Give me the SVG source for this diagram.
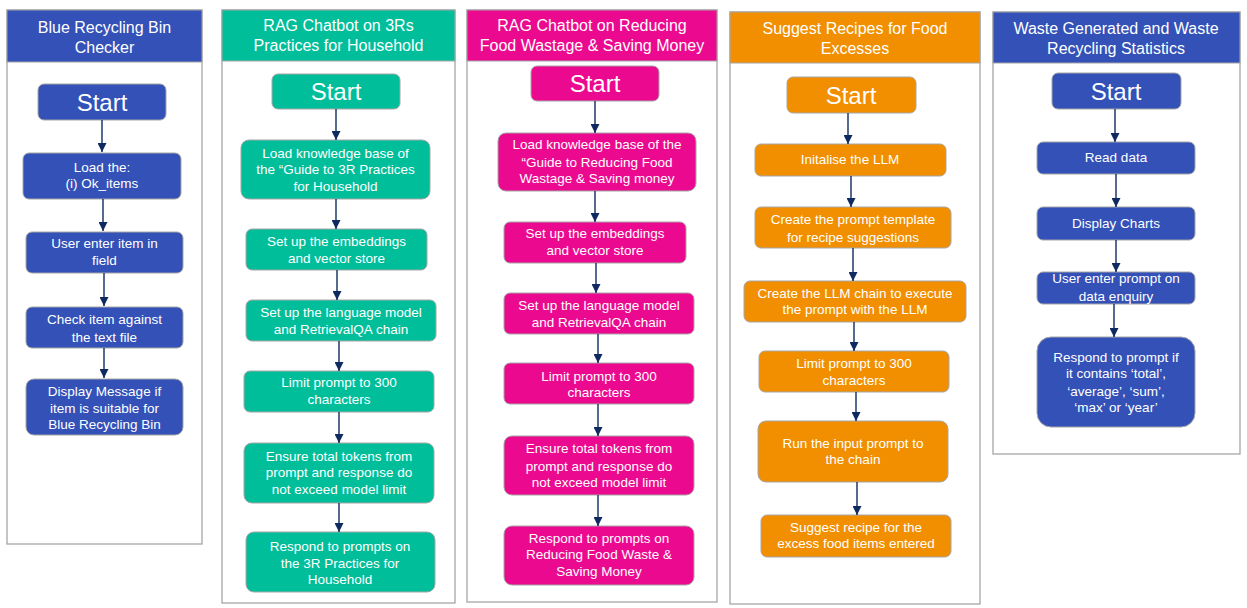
<svg xmlns="http://www.w3.org/2000/svg" width="1247" height="608" viewBox="0 0 1247 608">
<style>
text{font-family:"Liberation Sans",Arial,sans-serif;fill:#fff;text-anchor:middle}
.hd{font-size:16px}
.st{font-size:24px}
.bx{font-size:13.5px}
.panel{fill:#fff;stroke:#a6a6a6;stroke-width:1.3}
.hdr{stroke:#a6a6a6;stroke-width:1}
.n{stroke:#a6a6a6;stroke-width:1}
.blue{fill:#3351b7}
.teal{fill:#00be9a}
.pink{fill:#eb0a8f}
.orng{fill:#f18f00}
.c line{stroke:#0f2a60;stroke-width:1.4}
</style>
<defs>
<marker id="ah" markerUnits="userSpaceOnUse" markerWidth="9" markerHeight="9" refX="9" refY="4.5" orient="auto">
<path d="M0,0 L9,4.5 L0,9 Z" fill="#0f2a60"/>
</marker>
</defs>
<rect width="1247" height="608" fill="#fff"/>

<!-- Panels -->
<g id="panel1">
<rect class="panel" x="7" y="10" width="195" height="534"/>
<rect class="hdr blue" x="7" y="10" width="195" height="52"/>
<text class="hd" x="104.5" y="32.5">Blue Recycling Bin</text>
<text class="hd" x="104.5" y="52.5">Checker</text>
</g>
<g id="panel2">
<rect class="panel" x="222" y="10" width="233" height="593"/>
<rect class="hdr teal" x="222" y="10" width="233" height="51"/>
<text class="hd" x="338.5" y="31">RAG Chatbot on 3Rs</text>
<text class="hd" x="338.5" y="51">Practices for Household</text>
</g>
<g id="panel3">
<rect class="panel" x="467" y="10" width="250" height="592"/>
<rect class="hdr pink" x="467" y="10" width="250" height="51"/>
<text class="hd" x="592" y="31">RAG Chatbot on Reducing</text>
<text class="hd" x="592" y="51">Food Wastage &amp; Saving Money</text>
</g>
<g id="panel4">
<rect class="panel" x="730" y="12" width="250" height="592"/>
<rect class="hdr orng" x="730" y="12" width="250" height="51"/>
<text class="hd" x="855" y="33.5">Suggest Recipes for Food</text>
<text class="hd" x="855" y="53.5">Excesses</text>
</g>
<g id="panel5">
<rect class="panel" x="993" y="12" width="247" height="442"/>
<rect class="hdr blue" x="993" y="12" width="247" height="51"/>
<text class="hd" x="1116" y="33.5">Waste Generated and Waste</text>
<text class="hd" x="1116" y="53.5">Recycling Statistics</text>
</g>

<!-- Column 1 nodes -->
<g id="c1-start"><rect class="n blue" x="38" y="84" width="128" height="36" rx="6"/><text class="st" x="102" y="110.5">Start</text></g>
<g id="c1-load"><rect class="n blue" x="23" y="153" width="158" height="46" rx="6"/><text class="bx" x="102" y="171.5">Load the:</text><text class="bx" x="102" y="188">(i) Ok_items</text></g>
<g id="c1-user"><rect class="n blue" x="26" y="232" width="157" height="41" rx="6"/><text class="bx" x="104.5" y="247.5">User enter item in</text><text class="bx" x="104.5" y="264.5">field</text></g>
<g id="c1-check"><rect class="n blue" x="26" y="307" width="157" height="41" rx="6"/><text class="bx" x="104.5" y="323.5">Check item against</text><text class="bx" x="104.5" y="341.5">the text file</text></g>
<g id="c1-display"><rect class="n blue" x="26" y="379" width="157" height="56" rx="8"/><text class="bx" x="104.5" y="395.5">Display Message if</text><text class="bx" x="104.5" y="412.5">item is suitable for</text><text class="bx" x="104.5" y="428.5">Blue Recycling Bin</text></g>

<!-- Column 2 nodes -->
<g id="c2-start"><rect class="n teal" x="272" y="74" width="128" height="35" rx="6"/><text class="st" x="336" y="99.5">Start</text></g>
<g id="c2-load"><rect class="n teal" x="241" y="140" width="189" height="59" rx="8"/><text class="bx" x="335.5" y="157.5">Load knowledge base of</text><text class="bx" x="335.5" y="173.5">the “Guide to 3R Practices</text><text class="bx" x="335.5" y="190.5">for Household</text></g>
<g id="c2-embed"><rect class="n teal" x="246" y="229" width="181" height="41" rx="6"/><text class="bx" x="336.5" y="245.5">Set up the embeddings</text><text class="bx" x="336.5" y="262.5">and vector store</text></g>
<g id="c2-lang"><rect class="n teal" x="246" y="300" width="190" height="41" rx="6"/><text class="bx" x="341" y="316.5">Set up the language model</text><text class="bx" x="341" y="333.5">and RetrievalQA chain</text></g>
<g id="c2-limit"><rect class="n teal" x="244" y="371" width="190" height="41" rx="6"/><text class="bx" x="339" y="386.5">Limit prompt to 300</text><text class="bx" x="339" y="403.5">characters</text></g>
<g id="c2-ensure"><rect class="n teal" x="244" y="443" width="190" height="60" rx="8"/><text class="bx" x="339" y="460.5">Ensure total tokens from</text><text class="bx" x="339" y="476.5">prompt and response do</text><text class="bx" x="339" y="493.5">not exceed model limit</text></g>
<g id="c2-respond"><rect class="n teal" x="246" y="532" width="189" height="60" rx="8"/><text class="bx" x="340" y="550.5">Respond to prompts on</text><text class="bx" x="340" y="567.5">the 3R Practices for</text><text class="bx" x="340" y="583.5">Household</text></g>

<!-- Column 3 nodes -->
<g id="c3-start"><rect class="n pink" x="531" y="66" width="128" height="35" rx="6"/><text class="st" x="595" y="91.5">Start</text></g>
<g id="c3-load"><rect class="n pink" x="498" y="133" width="198" height="58" rx="8"/><text class="bx" x="597" y="148.5">Load knowledge base of the</text><text class="bx" x="597" y="166.5">“Guide to Reducing Food</text><text class="bx" x="597" y="182.5">Wastage &amp; Saving money</text></g>
<g id="c3-embed"><rect class="n pink" x="504" y="222" width="182" height="41" rx="6"/><text class="bx" x="595" y="237.5">Set up the embeddings</text><text class="bx" x="595" y="254.5">and vector store</text></g>
<g id="c3-lang"><rect class="n pink" x="504" y="293" width="190" height="41" rx="6"/><text class="bx" x="599" y="309.5">Set up the language model</text><text class="bx" x="599" y="326.5">and RetrievalQA chain</text></g>
<g id="c3-limit"><rect class="n pink" x="504" y="363" width="190" height="41" rx="6"/><text class="bx" x="599" y="380.5">Limit prompt to 300</text><text class="bx" x="599" y="396.5">characters</text></g>
<g id="c3-ensure"><rect class="n pink" x="504" y="436" width="190" height="59" rx="8"/><text class="bx" x="599" y="452.5">Ensure total tokens from</text><text class="bx" x="599" y="470.5">prompt and response do</text><text class="bx" x="599" y="486.5">not exceed model limit</text></g>
<g id="c3-respond"><rect class="n pink" x="504" y="526" width="190" height="59" rx="8"/><text class="bx" x="599" y="542.5">Respond to prompts on</text><text class="bx" x="599" y="558.5">Reducing Food Waste &amp;</text><text class="bx" x="599" y="575.5">Saving Money</text></g>

<!-- Column 4 nodes -->
<g id="c4-start"><rect class="n orng" x="787" y="77" width="129" height="36" rx="6"/><text class="st" x="851" y="103.5">Start</text></g>
<g id="c4-init"><rect class="n orng" x="755" y="144" width="191" height="32" rx="6"/><text class="bx" x="850" y="163.5">Initalise the LLM</text></g>
<g id="c4-template"><rect class="n orng" x="755" y="207" width="196" height="41" rx="6"/><text class="bx" x="853" y="223.5">Create the prompt template</text><text class="bx" x="853" y="241.5">for recipe suggestions</text></g>
<g id="c4-chain"><rect class="n orng" x="744" y="281" width="222" height="41" rx="6"/><text class="bx" x="855" y="297.5">Create the LLM chain to execute</text><text class="bx" x="855" y="313.5">the prompt with the LLM</text></g>
<g id="c4-limit"><rect class="n orng" x="759" y="351" width="190" height="41" rx="6"/><text class="bx" x="854" y="367.5">Limit prompt to 300</text><text class="bx" x="854" y="384.5">characters</text></g>
<g id="c4-run"><rect class="n orng" x="758" y="421" width="190" height="61" rx="8"/><text class="bx" x="853" y="447.5">Run the input prompt to</text><text class="bx" x="853" y="463.5">the chain</text></g>
<g id="c4-suggest"><rect class="n orng" x="761" y="515" width="190" height="42" rx="6"/><text class="bx" x="856" y="531.5">Suggest recipe for the</text><text class="bx" x="856" y="547.5">excess food items entered</text></g>

<!-- Column 5 nodes -->
<g id="c5-start"><rect class="n blue" x="1052" y="73" width="129" height="36" rx="6"/><text class="st" x="1116" y="99.5">Start</text></g>
<g id="c5-read"><rect class="n blue" x="1037" y="142" width="158" height="32" rx="6"/><text class="bx" x="1116" y="161.5">Read data</text></g>
<g id="c5-charts"><rect class="n blue" x="1037" y="207" width="158" height="33" rx="6"/><text class="bx" x="1116" y="227.5">Display Charts</text></g>
<g id="c5-user"><rect class="n blue" x="1037" y="272" width="158" height="32" rx="6"/><text class="bx" x="1116" y="282.5">User enter prompt on</text><text class="bx" x="1116" y="300.5">data enquiry</text></g>
<g id="c5-respond"><rect class="n blue" x="1037" y="337" width="158" height="90" rx="14"/><text class="bx" x="1116" y="361.5">Respond to prompt if</text><text class="bx" x="1116" y="377.5">it contains ‘total’,</text><text class="bx" x="1116" y="395.5">‘average’, ‘sum’,</text><text class="bx" x="1116" y="411.5">‘max’ or ‘year’</text></g>

<!-- Connectors -->
<g id="connectors" class="c">
<line x1="102" y1="120" x2="102" y2="152" marker-end="url(#ah)"/>
<line x1="103" y1="199" x2="103" y2="231" marker-end="url(#ah)"/>
<line x1="104" y1="273" x2="104" y2="306" marker-end="url(#ah)"/>
<line x1="104" y1="348" x2="104" y2="378" marker-end="url(#ah)"/>

<line x1="336" y1="109" x2="336" y2="140" marker-end="url(#ah)"/>
<line x1="336" y1="199" x2="336" y2="229" marker-end="url(#ah)"/>
<line x1="337" y1="270" x2="337" y2="300" marker-end="url(#ah)"/>
<line x1="339" y1="341" x2="339" y2="371" marker-end="url(#ah)"/>
<line x1="339" y1="412" x2="339" y2="443" marker-end="url(#ah)"/>
<line x1="339" y1="503" x2="339" y2="532" marker-end="url(#ah)"/>

<line x1="595" y1="101" x2="595" y2="133" marker-end="url(#ah)"/>
<line x1="595" y1="191" x2="595" y2="222" marker-end="url(#ah)"/>
<line x1="596" y1="263" x2="596" y2="293" marker-end="url(#ah)"/>
<line x1="598" y1="334" x2="598" y2="363" marker-end="url(#ah)"/>
<line x1="598" y1="404" x2="598" y2="436" marker-end="url(#ah)"/>
<line x1="598" y1="495" x2="598" y2="526" marker-end="url(#ah)"/>

<line x1="848" y1="113" x2="848" y2="144" marker-end="url(#ah)"/>
<line x1="851" y1="176" x2="851" y2="207" marker-end="url(#ah)"/>
<line x1="853" y1="248" x2="853" y2="281" marker-end="url(#ah)"/>
<line x1="854" y1="322" x2="854" y2="351" marker-end="url(#ah)"/>
<line x1="856" y1="392" x2="856" y2="421" marker-end="url(#ah)"/>
<line x1="857" y1="482" x2="857" y2="515" marker-end="url(#ah)"/>

<line x1="1115" y1="109" x2="1115" y2="142" marker-end="url(#ah)"/>
<line x1="1116" y1="174" x2="1116" y2="207" marker-end="url(#ah)"/>
<line x1="1116" y1="240" x2="1116" y2="272" marker-end="url(#ah)"/>
<line x1="1114" y1="304" x2="1114" y2="337" marker-end="url(#ah)"/>
</g>
</svg>
